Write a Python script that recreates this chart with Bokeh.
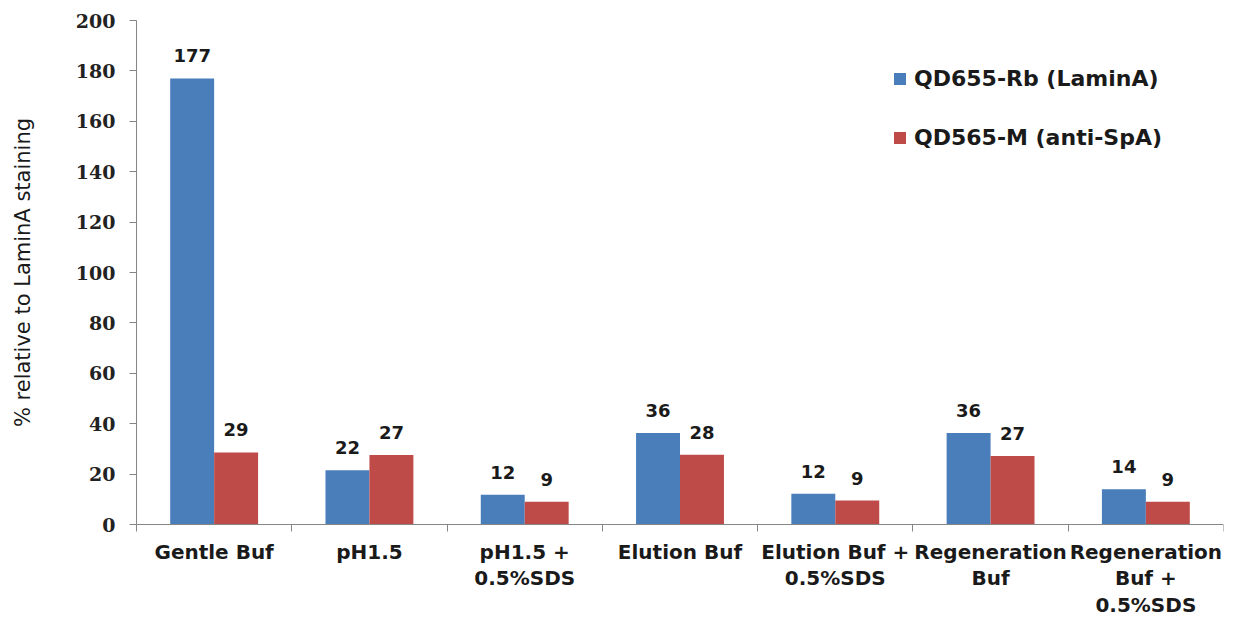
import math
from bokeh.plotting import figure
from bokeh.models import ColumnDataSource, FixedTicker, Range1d, Legend, LegendItem
from bokeh.core.properties import value
from bokeh.embed import file_html
from bokeh.resources import INLINE

categories = ["Gentle Buf", "pH1.5", "pH1.5 +\n0.5%SDS", "Elution Buf",
              "Elution Buf +\n0.5%SDS", "Regeneration\nBuf", "Regeneration\nBuf +\n0.5%SDS"]
lamin = [177, 21.5, 11.8, 36.3, 12.2, 36.3, 14]
spa = [28.6, 27.6, 9, 27.7, 9.5, 27.2, 9]
lamin_labels = ["177", "22", "12", "36", "12", "36", "14"]
spa_labels = ["29", "27", "9", "28", "9", "27", "9"]
y_ticks = [0, 20, 40, 60, 80, 100, 120, 140, 160, 180, 200]
y_title = "% relative to LaminA staining"

BLUE = "#4a7ebb"
RED = "#be4b48"
TXT = "#1a1a1a"
AX = "#868686"
BAR_W = 0.283

n = len(categories)
centers = [i + 0.5 for i in range(n)]

# layout in pixels: plot area spans x 136..1223, y 20..524 (0..200)
W, H = 1233, 618
PX_L, PX_R, PX_T, PX_B = 136, 1223, 20, 524
x_per_px = n / (PX_R - PX_L)
y_per_px = 200 / (PX_B - PX_T)
X_LOW = -PX_L * x_per_px
Y_LOW = -(H - PX_B) * y_per_px
Y_HIGH = 200 + PX_T * y_per_px

p = figure(width=W, height=H, output_backend="svg", toolbar_location=None,
           x_range=Range1d(X_LOW, n), y_range=Range1d(Y_LOW, Y_HIGH))
p.min_border_left = 0
p.min_border_top = 0
p.min_border_bottom = 0
p.min_border_right = W - PX_R
p.outline_line_color = None
p.xgrid.visible = False
p.ygrid.visible = False

src_b = ColumnDataSource(dict(x=[c - BAR_W / 2 for c in centers], top=lamin, lab=lamin_labels))
src_r = ColumnDataSource(dict(x=[c + BAR_W / 2 for c in centers], top=spa, lab=spa_labels))

rb = p.vbar(x="x", top="top", width=BAR_W, source=src_b, fill_color=BLUE, line_color=None)
rr = p.vbar(x="x", top="top", width=BAR_W, source=src_r, fill_color=RED, line_color=None)

for src in (src_b, src_r):
    p.text(x="x", y="top", text="lab", source=src, text_align="center", text_baseline="bottom",
           y_offset=-16, text_font=value("DejaVu Sans"), text_font_style="bold",
           text_font_size="18px", text_color=TXT)

# category labels below the x axis
cat_src = ColumnDataSource(dict(x=centers, y=[0] * n, lab=categories))
p.text(x="x", y="y", text="lab", source=cat_src, text_align="center", text_baseline="top",
       y_offset=15, text_font=value("DejaVu Sans"), text_font_style="bold",
       text_font_size="20px", text_color=TXT, text_line_height=1.12)

# y axis title
p.text(x=[(22 - PX_L) * x_per_px], y=[100], text=[y_title], angle=math.pi / 2,
       text_align="center", text_baseline="middle", text_font=value("DejaVu Sans"),
       text_font_size="21px", text_color=TXT)

# axes
p.xaxis.fixed_location = 0
p.xaxis.bounds = (0, n)
p.xaxis.ticker = FixedTicker(ticks=[], minor_ticks=list(range(n + 1)))
p.xaxis.major_label_text_font_size = "0px"
p.xaxis.major_tick_out = 0
p.xaxis.major_tick_in = 0
p.xaxis.minor_tick_out = 7
p.xaxis.minor_tick_in = 0
p.xaxis.minor_tick_line_color = AX
p.xaxis.axis_line_color = AX

p.yaxis.fixed_location = 0
p.yaxis.bounds = (0, 200)
p.yaxis.ticker = FixedTicker(ticks=y_ticks)
p.yaxis.minor_tick_line_color = None
p.yaxis.major_tick_out = 7
p.yaxis.major_tick_in = 0
p.yaxis.major_tick_line_color = AX
p.yaxis.axis_line_color = AX
p.yaxis.major_label_text_font = "DejaVu Serif"
p.yaxis.major_label_text_font_style = "bold"
p.yaxis.major_label_text_font_size = "19px"
p.yaxis.major_label_text_color = "#222222"
p.yaxis.major_label_standoff = 14

legend = Legend(items=[LegendItem(label="QD655-Rb (LaminA)", renderers=[rb]),
                       LegendItem(label="QD565-M (anti-SpA)", renderers=[rr])],
                location=(892, 468))
legend.border_line_color = None
legend.background_fill_alpha = 0
legend.padding = 0
legend.margin = 0
legend.spacing = 34
legend.glyph_width = 15
legend.glyph_height = 15
legend.label_standoff = 7
legend.label_text_font = "DejaVu Sans"
legend.label_text_font_style = "bold"
legend.label_text_font_size = "22px"
legend.label_text_color = TXT
p.add_layout(legend)

open("out.html", "w").write(file_html(p, INLINE))
